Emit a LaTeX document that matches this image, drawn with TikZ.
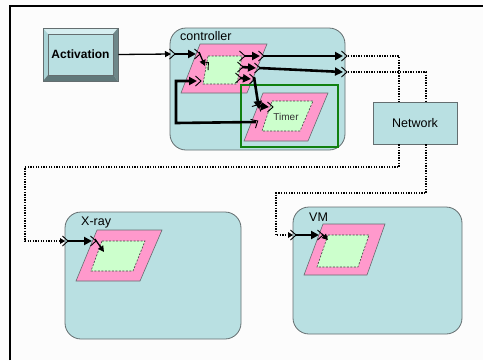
\documentclass[tikz,border=0pt]{standalone}
\usepackage{fontspec}
\setmainfont{Liberation Sans}
\usetikzlibrary{arrows.meta,calc}
\definecolor{bgc}{RGB}{252,252,252}
\definecolor{tealc}{RGB}{185,224,226}
\definecolor{pinkc}{RGB}{255,153,204}
\definecolor{greenin}{RGB}{204,255,204}
\definecolor{edgec}{RGB}{100,110,112}
\definecolor{frameg}{RGB}{16,128,16}
\definecolor{bevlight}{RGB}{214,238,240}
\definecolor{bevmid}{RGB}{170,212,215}
\definecolor{bevdark}{RGB}{110,135,137}
\definecolor{bevdeep}{RGB}{96,120,122}
\tikzset{
  comp/.style={draw=edgec, fill=tealc, rounded corners=16pt, line width=0.8pt},
  outerpg/.style={draw=edgec, fill=pinkc, line width=0.6pt},
  innerpg/.style={draw=black!75, fill=greenin, dash pattern=on 2pt off 1.5pt, line width=0.6pt},
  flow/.style={line width=2.6pt, -{Triangle[length=8pt,width=8pt]}},
  thinflow/.style={line width=1.3pt, -{Triangle[length=6pt,width=6pt]}},
  netlink/.style={line width=1.3pt, dash pattern=on 1.3pt off 1.3pt},
  lbl/.style={font=\fontsize{12.5}{13}\selectfont, inner sep=0pt},
  port/.pic={\draw[line width=0.9pt, black, line join=miter] (-3.5,-5) -- (2,0) -- (-3.5,5);},
}
\begin{document}
\begin{tikzpicture}[x=1pt,y=-1pt]
\useasboundingbox (0,0) rectangle (483,360);
\fill[bgc] (0,0) rectangle (483,360);
\draw[line width=2.4pt] (10,360) -- (10,6) -- (483,6);

% Activation button with bevelled rim
\fill[bevlight] (43,28) -- (118,28) -- (113,34) -- (48,34) -- cycle;
\fill[bevmid] (43,28) -- (48,34) -- (48,75) -- (43,81) -- cycle;
\fill[bevdark] (118,28) -- (118,81) -- (113,75) -- (113,34) -- cycle;
\fill[bevdeep] (43,81) -- (118,81) -- (113,75) -- (48,75) -- cycle;
\draw[edgec, line width=0.7pt] (43,28) rectangle (118,81);
\node[draw=edgec, fill=tealc, line width=0.6pt, minimum width=65pt, minimum height=41pt,
      inner sep=0pt, font=\bfseries\fontsize{12}{12}\selectfont] (act) at (80.5,54.5) {Activation};

% Component boxes
\node[comp, minimum width=175pt, minimum height=122pt] (ctrl) at (257.5,89) {};
\node[comp, minimum width=176pt, minimum height=127pt] (xray) at (153,275.5) {};
\node[comp, minimum width=169pt, minimum height=127pt] (vm) at (377.5,270.5) {};
\node[draw=edgec, fill=tealc, line width=0.8pt, minimum width=84pt, minimum height=42pt,
      lbl] (net) at (415,123) {Network};
\node[lbl, anchor=west] (ctrllab) at (180,36) {controller};
\node[lbl, anchor=west] (xraylab) at (81,222) {X-ray};
\node[lbl, anchor=west] (vmlab) at (309,217) {VM};

% Behaviour parallelograms
\filldraw[outerpg] (200,44) -- (267,44) -- (247,93) -- (181,93) -- cycle;
\filldraw[innerpg] (208,56) -- (242,56) -- (237,84) -- (203,84) -- cycle;
\filldraw[outerpg] (263,93) -- (328,93) -- (308,141) -- (244,141) -- cycle;
\filldraw[innerpg] (272,101) -- (313,101) -- (300,131) -- (262,131) -- cycle;
\node[inner sep=0pt, font=\fontsize{10}{10}\selectfont, text=black!80] (timerlab) at (286,117) {Timer};
\draw[frameg, line width=2pt] (241,85) rectangle (338,147);
\filldraw[outerpg] (97,230) -- (162,230) -- (140,281) -- (76,281) -- cycle;
\filldraw[innerpg] (102,241) -- (145,241) -- (133,271) -- (91,271) -- cycle;
\filldraw[outerpg] (323,224) -- (385,224) -- (367,275) -- (304,275) -- cycle;
\filldraw[innerpg] (328,235) -- (369,235) -- (358,267) -- (317,267) -- cycle;

% Ports
\coordinate (cin) at (173,54);
\coordinate (cpa) at (198,54);
\coordinate (cpb) at (207,64);
\coordinate (cfb) at (199,81);
\coordinate (oa1) at (243,56);
\coordinate (ob1) at (262,56);
\coordinate (co1) at (345,56);
\coordinate (oa2) at (241,67);
\coordinate (ob2) at (258,68);
\coordinate (co2) at (345,72);
\coordinate (oa3) at (239,78);
\coordinate (ob3) at (253,79);
\coordinate (tin) at (258,106);
\coordinate (tib) at (271,107);
\coordinate (tout) at (256,122);
\coordinate (xin) at (66,241);
\coordinate (xpa) at (94,241);
\coordinate (xpb) at (105,251);
\coordinate (vin) at (294,235);
\coordinate (vpa) at (321,235);
\coordinate (vpb) at (328,240);
\coordinate (fb1) at (176,123);
\coordinate (fb2) at (176,81);
\coordinate (b1) at (25,167);
\coordinate (b2) at (276,193);

\foreach \p in {cin,cpa,cfb,oa1,ob1,co1,oa2,ob2,co2,oa3,ob3,tib,xin,xpa,vin,vpa}
  \pic at (\p) {port};
\pic[rotate=45] at (cpb) {port};
\pic[rotate=30] at (tout) {port};
\pic[rotate=60] at (tin) {port};

% Flows inside the controller
\draw[thinflow] ([xshift=5pt]act.east) -- ([xshift=-2pt]cin);
\draw[flow] ([xshift=2pt]cin) -- ([xshift=-2pt]cpa);
\draw[thinflow] ([shift={(1pt,2pt)}]cpa) -- ([shift={(-2pt,-2pt)}]cpb);
\draw[flow] (tout) -- (fb1) -- (fb2) -- ([xshift=-2pt]cfb);
\draw[flow] ([xshift=1pt]oa1) -- ([xshift=-2pt]ob1);
\draw[flow] ([xshift=1pt]ob1) -- ([xshift=-2pt]co1);
\draw[flow] ([xshift=1pt]oa2) -- ([xshift=-2pt]ob2);
\draw[flow] ([xshift=1pt]ob2) -- ([xshift=-2pt]co2);
\draw[flow] ([xshift=1pt]oa3) -- ([xshift=-2pt]ob3);
\draw[flow] ([shift={(1pt,2pt)}]ob3) -- ([shift={(1pt,-3pt)}]tin);
\draw[flow] ([xshift=1pt]tin) -- ([xshift=-2pt]tib);

% Flows inside X-ray and VM
\draw[flow] ([xshift=2pt]xin) -- ([xshift=-2pt]xpa);
\draw[thinflow] ([shift={(1pt,2pt)}]xpa) -- ([shift={(-1pt,-1pt)}]xpb);
\draw[flow] ([xshift=2pt]vin) -- ([xshift=-2pt]vpa);
\draw[thinflow] ([shift={(1pt,1pt)}]vpa) -- (vpb);

% Network links
\draw[netlink] ([xshift=3pt]co1) -| ([xshift=-16pt]net.north);
\draw[netlink] ([xshift=3pt]co2) -| ([xshift=11pt]net.north);
\draw[netlink] ([xshift=-16pt]net.south) |- (b1) |- ([xshift=-4pt]xin);
\draw[netlink] ([xshift=11pt]net.south) |- (b2) |- ([xshift=-4pt]vin);
\fill ([xshift=-1pt]xin) -- ++(-5,-3) -- ++(0,6) -- cycle;
\fill ([xshift=-1pt]vin) -- ++(-5,-3) -- ++(0,6) -- cycle;
\end{tikzpicture}
\end{document}
